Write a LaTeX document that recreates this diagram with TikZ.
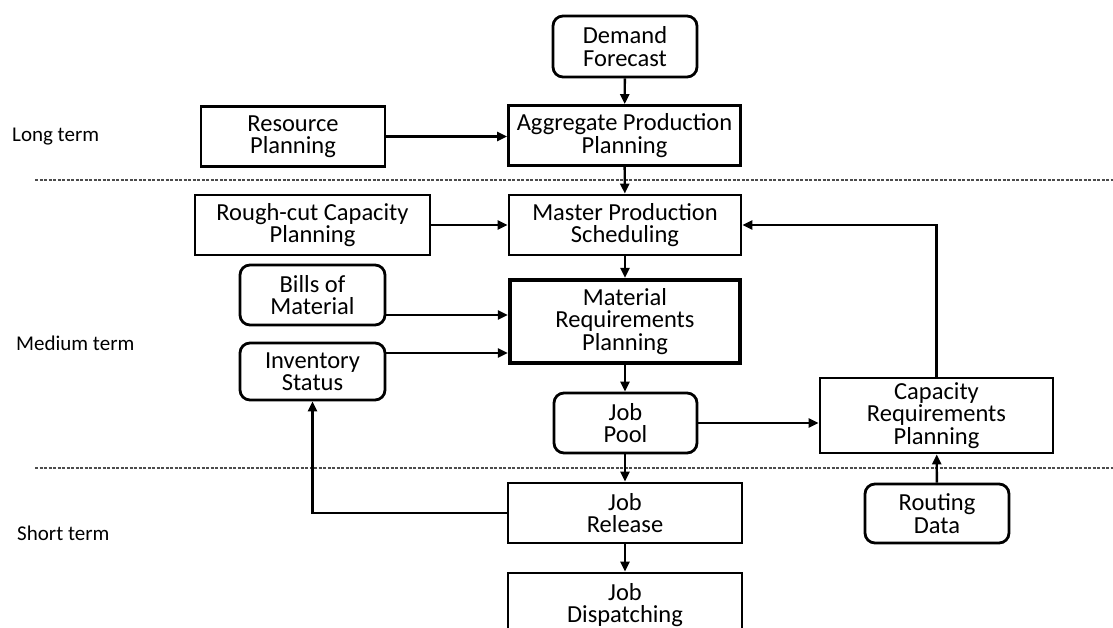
\documentclass[tikz,border=0pt]{standalone}
\usepackage{fontspec}
\setmainfont{Carlito}
\usetikzlibrary{arrows.meta}
\begin{document}
\begin{tikzpicture}[x=1pt,y=-1pt,
  box/.style={draw,line width=2.8pt,inner sep=0pt,align=center,
    font=\fontsize{24.5}{22.5}\selectfont},
  rbox/.style={box,rounded corners=10pt},
  thickbox/.style={box,line width=4.2pt},
  termlabel/.style={anchor=west,inner sep=0pt,font=\fontsize{21}{24}\selectfont},
  flow/.style={line width=2.4pt,-{Triangle[length=10pt,width=9pt]}},
  sep/.style={gray!60!black,line width=1.1pt,dash pattern=on 3pt off 1.5pt}]
\useasboundingbox (0,0) rectangle (1113,628);
\clip (0,0) rectangle (1113,628);

% planning horizon separators
\coordinate (s1a) at (35,180);  \coordinate (s1b) at (1113,180);
\coordinate (s2a) at (35,468);  \coordinate (s2b) at (1113,468);
\draw[sep] (s1a) -- (s1b);
\draw[sep] (s2a) -- (s2b);

% horizon labels
\node[termlabel] (lt) at (12,137) {Long term};
\node[termlabel] (mt) at (16,343) {Medium term};
\node[termlabel] (st) at (17,533) {Short term};

% main chain
\node[rbox,minimum width=144pt,minimum height=61pt] (dem) at (625,46.5) {Demand\\Forecast};
\node[box,minimum width=232pt,minimum height=60pt] (app) at (624.5,135.5) {Aggregate Production\\Planning};
\node[box,minimum width=232pt,minimum height=60pt] (mps) at (625,225) {Master Production\\Scheduling};
\node[thickbox,minimum width=230pt,minimum height=83pt] (mrp) at (625,321.5) {Material\\Requirements\\Planning};
\node[rbox,minimum width=143pt,minimum height=60pt] (pool) at (625.5,423) {Job\\Pool};
\node[box,minimum width=234pt,minimum height=60pt] (rel) at (625,513) {Job\\Release};
\node[box,minimum width=234pt,minimum height=64pt] (dis) at (625,605) {Job\\Dispatching};

% side inputs
\node[box,minimum width=184pt,minimum height=60pt] (res) at (293,136.5) {Resource\\Planning};
\node[box,minimum width=235pt,minimum height=60pt] (rcc) at (312.5,225) {Rough-cut Capacity\\Planning};
\node[rbox,minimum width=145pt,minimum height=60pt] (bom) at (312.5,295) {Bills of\\Material};
\node[rbox,minimum width=145pt,minimum height=57pt] (inv) at (312.5,371.5) {Inventory\\Status};
\node[box,minimum width=233pt,minimum height=75pt] (crp) at (936.5,415.5) {Capacity\\Requirements\\Planning};
\node[rbox,minimum width=144pt,minimum height=59pt] (rout) at (937,513.5) {Routing\\Data};

% vertical flow
\draw[flow] (dem) -- (app);
\draw[flow] (app) -- (mps);
\draw[flow] (mps) -- (mrp);
\draw[flow] (mrp.south) -- (pool.north -| mrp.south);
\draw[flow] (pool.south -| rel.north) -- (rel.north);
\draw[flow] (rel) -- (dis);

% side flows
\draw[flow] (res) -- (res -| app.west);
\draw[flow] (rcc) -- (mps);
\draw[flow] (bom.east |- 0,315) -- (mrp.west |- 0,315);
\draw[flow] (inv.east |- 0,353) -- (mrp.west |- 0,353);
\draw[flow] (pool) -- (pool -| crp.west);
\draw[flow] (rout) -- (crp);
\draw[flow] (crp.north) |- (mps.east);
\draw[flow] (rel.west) -| (inv.south);
\end{tikzpicture}
\end{document}
